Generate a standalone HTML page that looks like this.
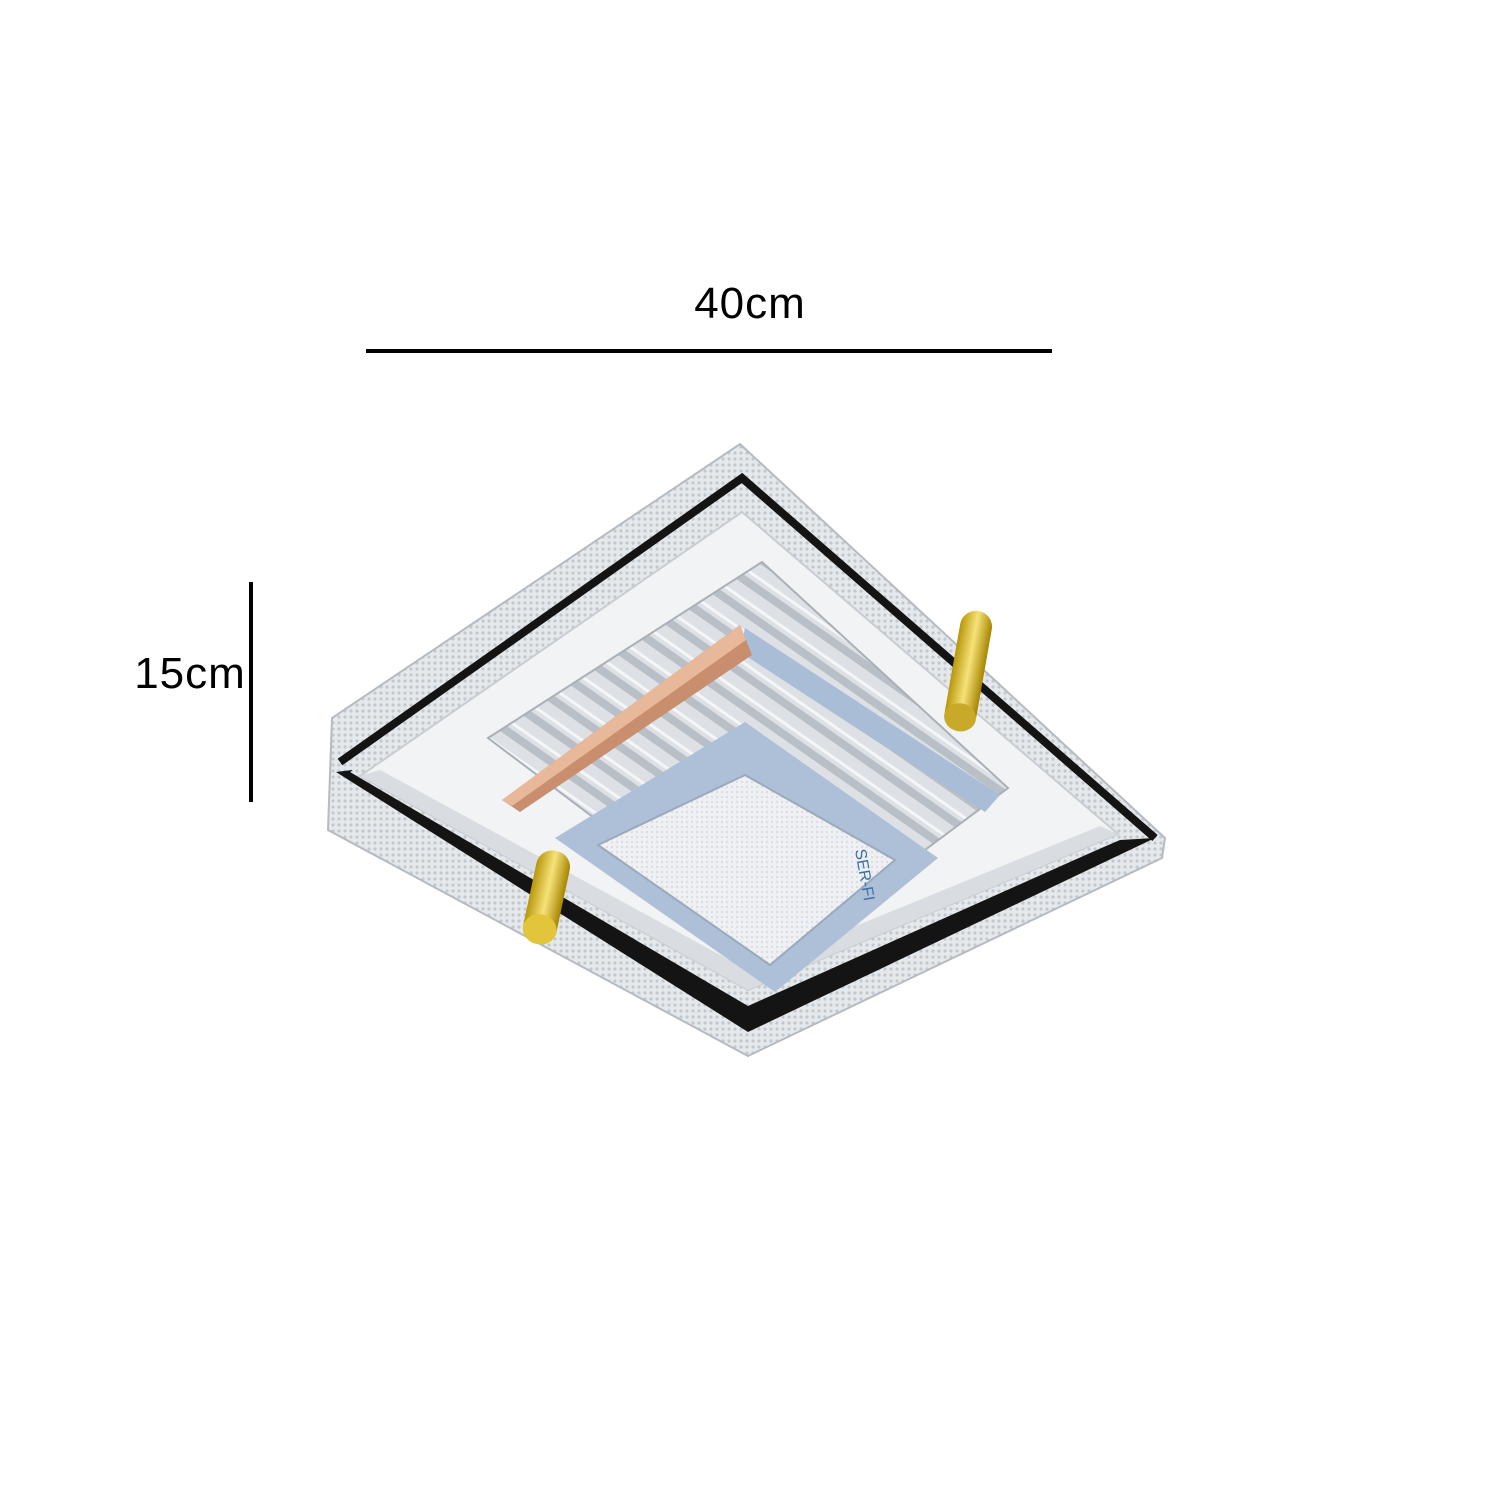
<!DOCTYPE html>
<html><head><meta charset="utf-8"><style>
html,body{margin:0;padding:0;background:#fff;width:1500px;height:1500px;overflow:hidden}
svg{display:block}
</style></head><body>
<svg width="1500" height="1500" viewBox="0 0 1500 1500" xmlns="http://www.w3.org/2000/svg">
<defs>
<pattern id="cr" width="6" height="6" patternUnits="userSpaceOnUse">
<rect width="6" height="6" fill="#e6e9ec"/><circle cx="3" cy="3" r="1.6" fill="#c3c8cd"/>
</pattern>
<pattern id="st" width="26" height="26" patternUnits="userSpaceOnUse" patternTransform="rotate(-55)">
<rect width="26" height="26" fill="#dde1e5"/><rect width="8" height="26" fill="#b9bfc6"/><rect x="12" width="3" height="26" fill="#f4f6f8"/>
</pattern>
<pattern id="fr" width="5" height="5" patternUnits="userSpaceOnUse">
<rect width="5" height="5" fill="#eef0f3"/><circle cx="2" cy="2" r="1" fill="#d4d8dd"/>
</pattern>
<linearGradient id="gold" x1="0" x2="1" y1="0" y2="0">
<stop offset="0" stop-color="#b8960a"/><stop offset="0.5" stop-color="#f7e27a"/><stop offset="1" stop-color="#a58400"/>
</linearGradient>
</defs>

<text x="750" y="318" font-family="Liberation Sans, sans-serif" font-size="44" text-anchor="middle" letter-spacing="1">40cm</text>
<rect x="366" y="349" width="686" height="4" fill="#000"/>
<text x="190" y="688" font-family="Liberation Sans, sans-serif" font-size="44" text-anchor="middle" letter-spacing="1">15cm</text>
<rect x="249" y="582" width="4" height="220" fill="#000"/>

<!-- outer frame -->
<polygon points="740,444 1165,838 1162,858 748,1056 328,830 332,718" fill="url(#cr)" stroke="#b5bbc1" stroke-width="2"/>
<!-- thin top black strips -->
<polyline points="340,762 742,478 1155,838" fill="none" stroke="#141414" stroke-width="8"/>
<!-- thick lower black band -->
<polygon points="336,772 748,1032 1155,838 1120,840 748,1000 352,770" fill="#141414"/>
<polygon points="742,495 1128,836 748,1006 350,772" fill="url(#cr)"/>
<polygon points="742,512 1118,834 748,990 360,776" fill="#f2f3f5" stroke="#c9cdd2" stroke-width="2"/>
<polygon points="360,776 748,990 1118,834 1100,826 748,970 380,770" fill="#d9dce0"/>

<!-- crystal ring -->
<polygon points="762,562 1008,788 780,958 488,738" fill="url(#st)" stroke="#aab0b7" stroke-width="2"/>
<!-- upper-right blue band -->
<polygon points="745,628 1000,795 985,812 740,652" fill="#aabdd6"/>
<!-- blue square -->
<polygon points="745,722 938,858 775,992 555,838" fill="#adc0d8"/>
<!-- frosted -->
<polygon points="745,775 895,860 770,965 598,845" fill="url(#fr)" stroke="#9aa9bb" stroke-width="2"/>
<text x="855" y="850" font-family="Liberation Sans, sans-serif" font-size="16" fill="#3f6fa8" transform="rotate(80 855 850)">SER-FI</text>

<!-- copper bar -->
<polygon points="740,625 752,655 520,812 502,800" fill="#c88e6e"/>
<polygon points="740,625 746,640 512,806 502,800" fill="#e8b89b"/>

<!-- gold cylinders -->
<g transform="rotate(10 968 672)">
<rect x="952" y="610" width="32" height="120" rx="16" fill="url(#gold)"/>
<ellipse cx="968" cy="718" rx="16" ry="14" fill="#c9a92a"/>
</g>
<g transform="rotate(12 547 895)">
<rect x="530" y="850" width="34" height="95" rx="16" fill="url(#gold)"/>
<ellipse cx="547" cy="930" rx="17" ry="15" fill="#e2c53a"/>
</g>
</svg>
</body></html>
